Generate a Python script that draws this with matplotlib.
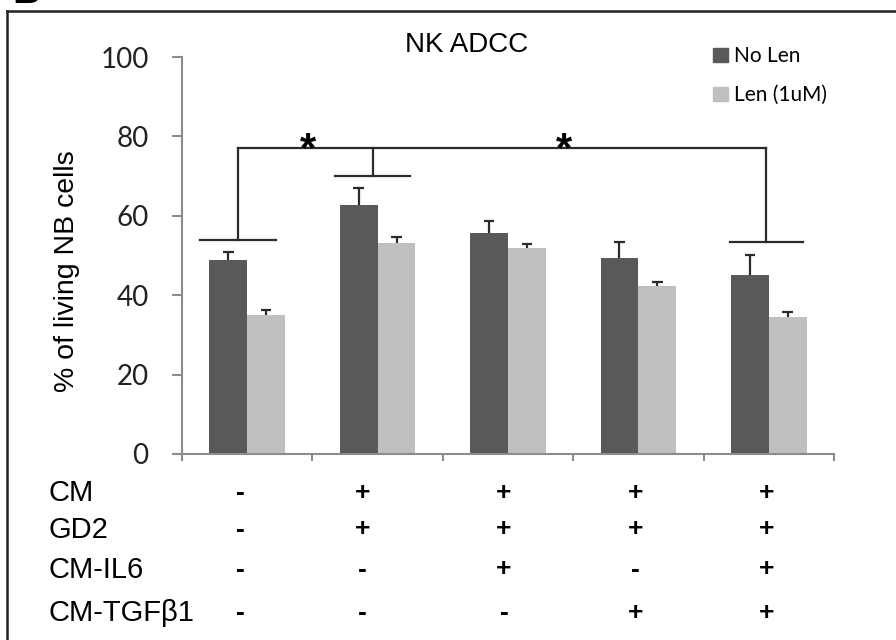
import numpy as np
import matplotlib.pyplot as plt
from matplotlib.lines import Line2D
from matplotlib.patches import Patch

# === Data ===
groups = np.arange(5)
no_len = [48.9, 62.7, 55.7, 49.4, 45.1]
no_len_err = [2.1, 4.3, 3.0, 4.1, 5.1]
len_1um = [34.9, 53.2, 52.0, 42.4, 34.5]
len_1um_err = [1.3, 1.4, 0.8, 0.9, 1.3]

row_labels = ['CM', 'GD2', 'CM-IL6', 'CM-TGF\u03b21']
row_signs = [['-', '+', '+', '+', '+'],
             ['-', '+', '+', '+', '+'],
             ['-', '-', '+', '-', '+'],
             ['-', '-', '-', '+', '+']]
sign_x = [-0.05, 0.885, 1.97, 2.98, 3.98]

# significance brackets: (centre, half width, level)
brackets = [(-0.07, 0.29, 53.9), (0.962, 0.29, 70.0), (3.98, 0.28, 53.5)]
top_level = 77.0
stars_x = [0.468, 2.43]

dark = '#595959'
light = '#bfbfbf'
axis_gray = '#8c8c8c'
ink = '#2b2b2b'

fig = plt.figure(figsize=(8.96, 6.4), dpi=100)
ax = fig.add_axes([182/896, 1 - 454/640, (834 - 182)/896, (454 - 57)/640])

w = 0.29
cap = 0.04
for xs, vals, errs, col in [(groups - w/2, no_len, no_len_err, dark),
                            (groups + w/2, len_1um, len_1um_err, light)]:
    ax.bar(xs, vals, w, color=col, zorder=2)
    tops = np.array(vals) + np.array(errs)
    # upper error bars only
    ax.vlines(xs, vals, tops, color=ink, lw=1.6, zorder=3)
    ax.hlines(tops, xs - cap, xs + cap, color=ink, lw=1.6, zorder=3)

# brackets
for cx, hw, lvl in brackets:
    ax.plot([cx - hw, cx + hw], [lvl, lvl], color=ink, lw=1.6, clip_on=False)
    ax.plot([cx, cx], [lvl, top_level], color=ink, lw=1.6, clip_on=False)
ax.plot([brackets[0][0], brackets[-1][0]], [top_level, top_level], color=ink, lw=1.6)
for sx in stars_x:
    ax.text(sx, 73.8, '*', ha='center', va='baseline', fontsize=30,
            fontweight='bold', family='Liberation Sans')

ax.set_xlim(-0.5, 4.5)
ax.set_ylim(0, 100)
ax.set_yticks(np.arange(0, 101, 20))
ax.set_xticks(np.arange(-0.5, 4.6, 1))
ax.set_xticklabels([])
for s in ['top', 'right']:
    ax.spines[s].set_visible(False)
for s in ['left', 'bottom']:
    ax.spines[s].set_color(axis_gray)
    ax.spines[s].set_linewidth(1.5)
ax.tick_params(axis='y', length=7, width=1.5, color=axis_gray, pad=17,
               labelsize=20, labelcolor='#222222')
ax.tick_params(axis='x', length=5, width=1.5, color=axis_gray)
for t in ax.get_yticklabels():
    t.set_family('Lato')

ax.text((467 - 182)/652, 1 - (45 - 57)/397, 'NK ADCC', transform=ax.transAxes,
        ha='center', va='center', fontsize=20, family='Liberation Sans')
fig.text(67/896, 1 - 271/640, '% of living NB cells', rotation=90, ha='center', va='center',
         fontsize=20.5, family='Liberation Sans')

handles = [Patch(color=dark), Patch(color=light)]
fig.legend(handles, ['No Len', 'Len (1uM)'], loc='upper left', bbox_to_anchor=(703/896, 1 - 36/640),
           frameon=False, prop={'family': 'Lato', 'size': 15}, handlelength=0.7, handleheight=0.7,
           handletextpad=0.3, labelspacing=0.9, borderpad=0)

# table below the chart
row_y = [493, 529.5, 569.5, 613]
for lab, signs, yp in zip(row_labels, row_signs, row_y):
    fig.text(48/896, 1 - yp/640, lab, ha='left', va='center', fontsize=21, family='Liberation Sans')
    for sx, sg in zip(sign_x, signs):
        xf = ax.transData.transform((sx, 0))[0] / fig.bbox.width
        fig.text(xf, 1 - yp/640, sg, ha='center', va='center', fontsize=19,
                 family='Liberation Sans', fontweight='bold')

# panel frame and label
fig.add_artist(Line2D([7/896, 1], [1 - 11/640, 1 - 11/640], color='#222222', lw=1.8))
fig.add_artist(Line2D([7/896, 7/896], [0, 1 - 11/640], color='#222222', lw=1.8))
fig.text(12/896, 1 - 3/640, 'B', ha='left', va='baseline', fontsize=28, fontweight='bold',
         family='Liberation Sans')

fig.savefig('out.png', dpi=100)
